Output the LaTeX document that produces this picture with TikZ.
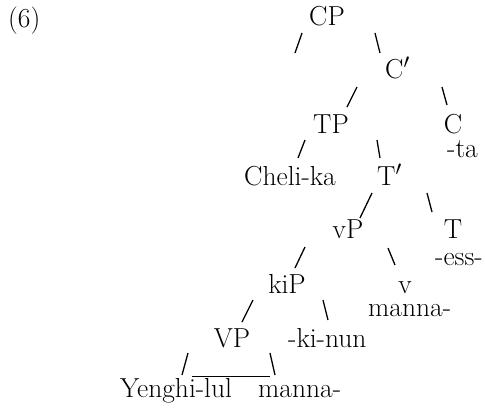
\documentclass[tikz,border=0pt]{standalone}
\begin{document}
\begin{tikzpicture}[x=1pt,y=-1pt,
  lab/.style={inner sep=0pt,font=\fontsize{27.5}{32}\selectfont},
  br/.style={line width=1.3pt}]
\useasboundingbox (0,0) rectangle (485,408);
\node[lab,anchor=base west] (ex) at (8,27) {(6)};
\node[lab,anchor=base] (cp) at (327,25) {CP};
\node[lab,anchor=base west] (cbar) at (385,78) {C$'$};
\node[lab,anchor=base] (tp) at (331,133) {TP};
\node[lab,anchor=base] (c) at (453,133) {C};
\node[lab,anchor=base west] (ta) at (447,157) {-ta};
\node[lab,anchor=base] (cheli) at (290,185) {Cheli-ka};
\node[lab,anchor=base west] (tbar) at (377,185) {T$'$};
\node[lab,anchor=base] (vp) at (348,238) {vP};
\node[lab,anchor=base] (t) at (453,238) {T};
\node[lab,anchor=base west] (ess) at (435,265) {-ess-};
\node[lab,anchor=base] (kip) at (287,293) {kiP};
\node[lab,anchor=base] (v) at (405,293) {v};
\node[lab,anchor=base west] (manv) at (368,316) {manna-};
\node[lab,anchor=base] (bigvp) at (232,347) {VP};
\node[lab,anchor=base west] (kinun) at (288,347) {-ki-nun};
\node[lab,anchor=base west] (yeng) at (120,397) {Yenghi-lul};
\node[lab,anchor=base west] (manV) at (258,397) {manna-};
% branch marks
\coordinate (a1) at (302,33); \coordinate (a2) at (295,53);
\coordinate (b1) at (375,33); \coordinate (b2) at (380,53);
\coordinate (c1) at (357,87); \coordinate (c2) at (347,107);
\coordinate (d1) at (442,87); \coordinate (d2) at (447,105);
\coordinate (e1) at (305,140); \coordinate (e2) at (298,158);
\coordinate (f1) at (377,140); \coordinate (f2) at (380,158);
\coordinate (g1) at (372,193); \coordinate (g2) at (360,218);
\coordinate (h1) at (427,193); \coordinate (h2) at (432,212);
\coordinate (i1) at (305,247); \coordinate (i2) at (295,268);
\coordinate (j1) at (388,248); \coordinate (j2) at (395,265);
\coordinate (k1) at (253,300); \coordinate (k2) at (242,322);
\coordinate (l1) at (323,300); \coordinate (l2) at (328,320);
\coordinate (m1) at (188,353); \coordinate (m2) at (182,375);
\coordinate (n1) at (192,376); \coordinate (n2) at (270,376);
\coordinate (o1) at (270,353); \coordinate (o2) at (275,375);
\foreach \p in {a,b,c,d,e,f,g,h,i,j,k,l,m,o}{\draw[br] (\p1) -- (\p2);}
\draw[line width=1pt] (n1) -- (n2);
\end{tikzpicture}
\end{document}
